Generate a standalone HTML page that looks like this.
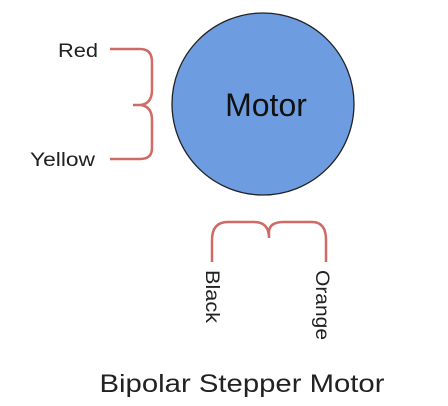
<!DOCTYPE html>
<html><head><style>
html,body{margin:0;padding:0;background:#fff;}
</style></head><body>
<svg width="448" height="406" xmlns="http://www.w3.org/2000/svg" style="display:block">
<circle cx="263" cy="104" r="91" fill="#6d9de0" stroke="#222" stroke-width="1.3"/>
<text x="266" y="116" font-family="Liberation Sans, sans-serif" font-size="32" text-anchor="middle" fill="#111">Motor</text>
<g fill="none" stroke="#d06a64" stroke-width="2.5">
<path d="M110 49 H140 Q152 49 152 62 V90 Q152 104 140 105 H133 M140 105 Q152 106 152 120 V148 Q152 159 140 159 H110"/>
<path d="M212 262 V240 Q212 222 228 222 H254 Q269 222 269 238 M269 238 V232 Q269 222 284 222 H312 Q326 222 326 240 V262"/>
</g>
<g font-family="Liberation Sans, sans-serif" font-size="19" fill="#222">
<text x="98" y="57" text-anchor="end" textLength="40" lengthAdjust="spacingAndGlyphs">Red</text>
<text x="95" y="166" text-anchor="end" textLength="65" lengthAdjust="spacingAndGlyphs">Yellow</text>
<text transform="translate(206,270) rotate(90)" textLength="53" lengthAdjust="spacingAndGlyphs">Black</text>
<text transform="translate(316,270) rotate(90)" textLength="70" lengthAdjust="spacingAndGlyphs">Orange</text>
</g>
<text x="242" y="392" font-family="Liberation Sans, sans-serif" font-size="25" text-anchor="middle" fill="#222" textLength="285" lengthAdjust="spacingAndGlyphs">Bipolar Stepper Motor</text>
</svg>
</body></html>
